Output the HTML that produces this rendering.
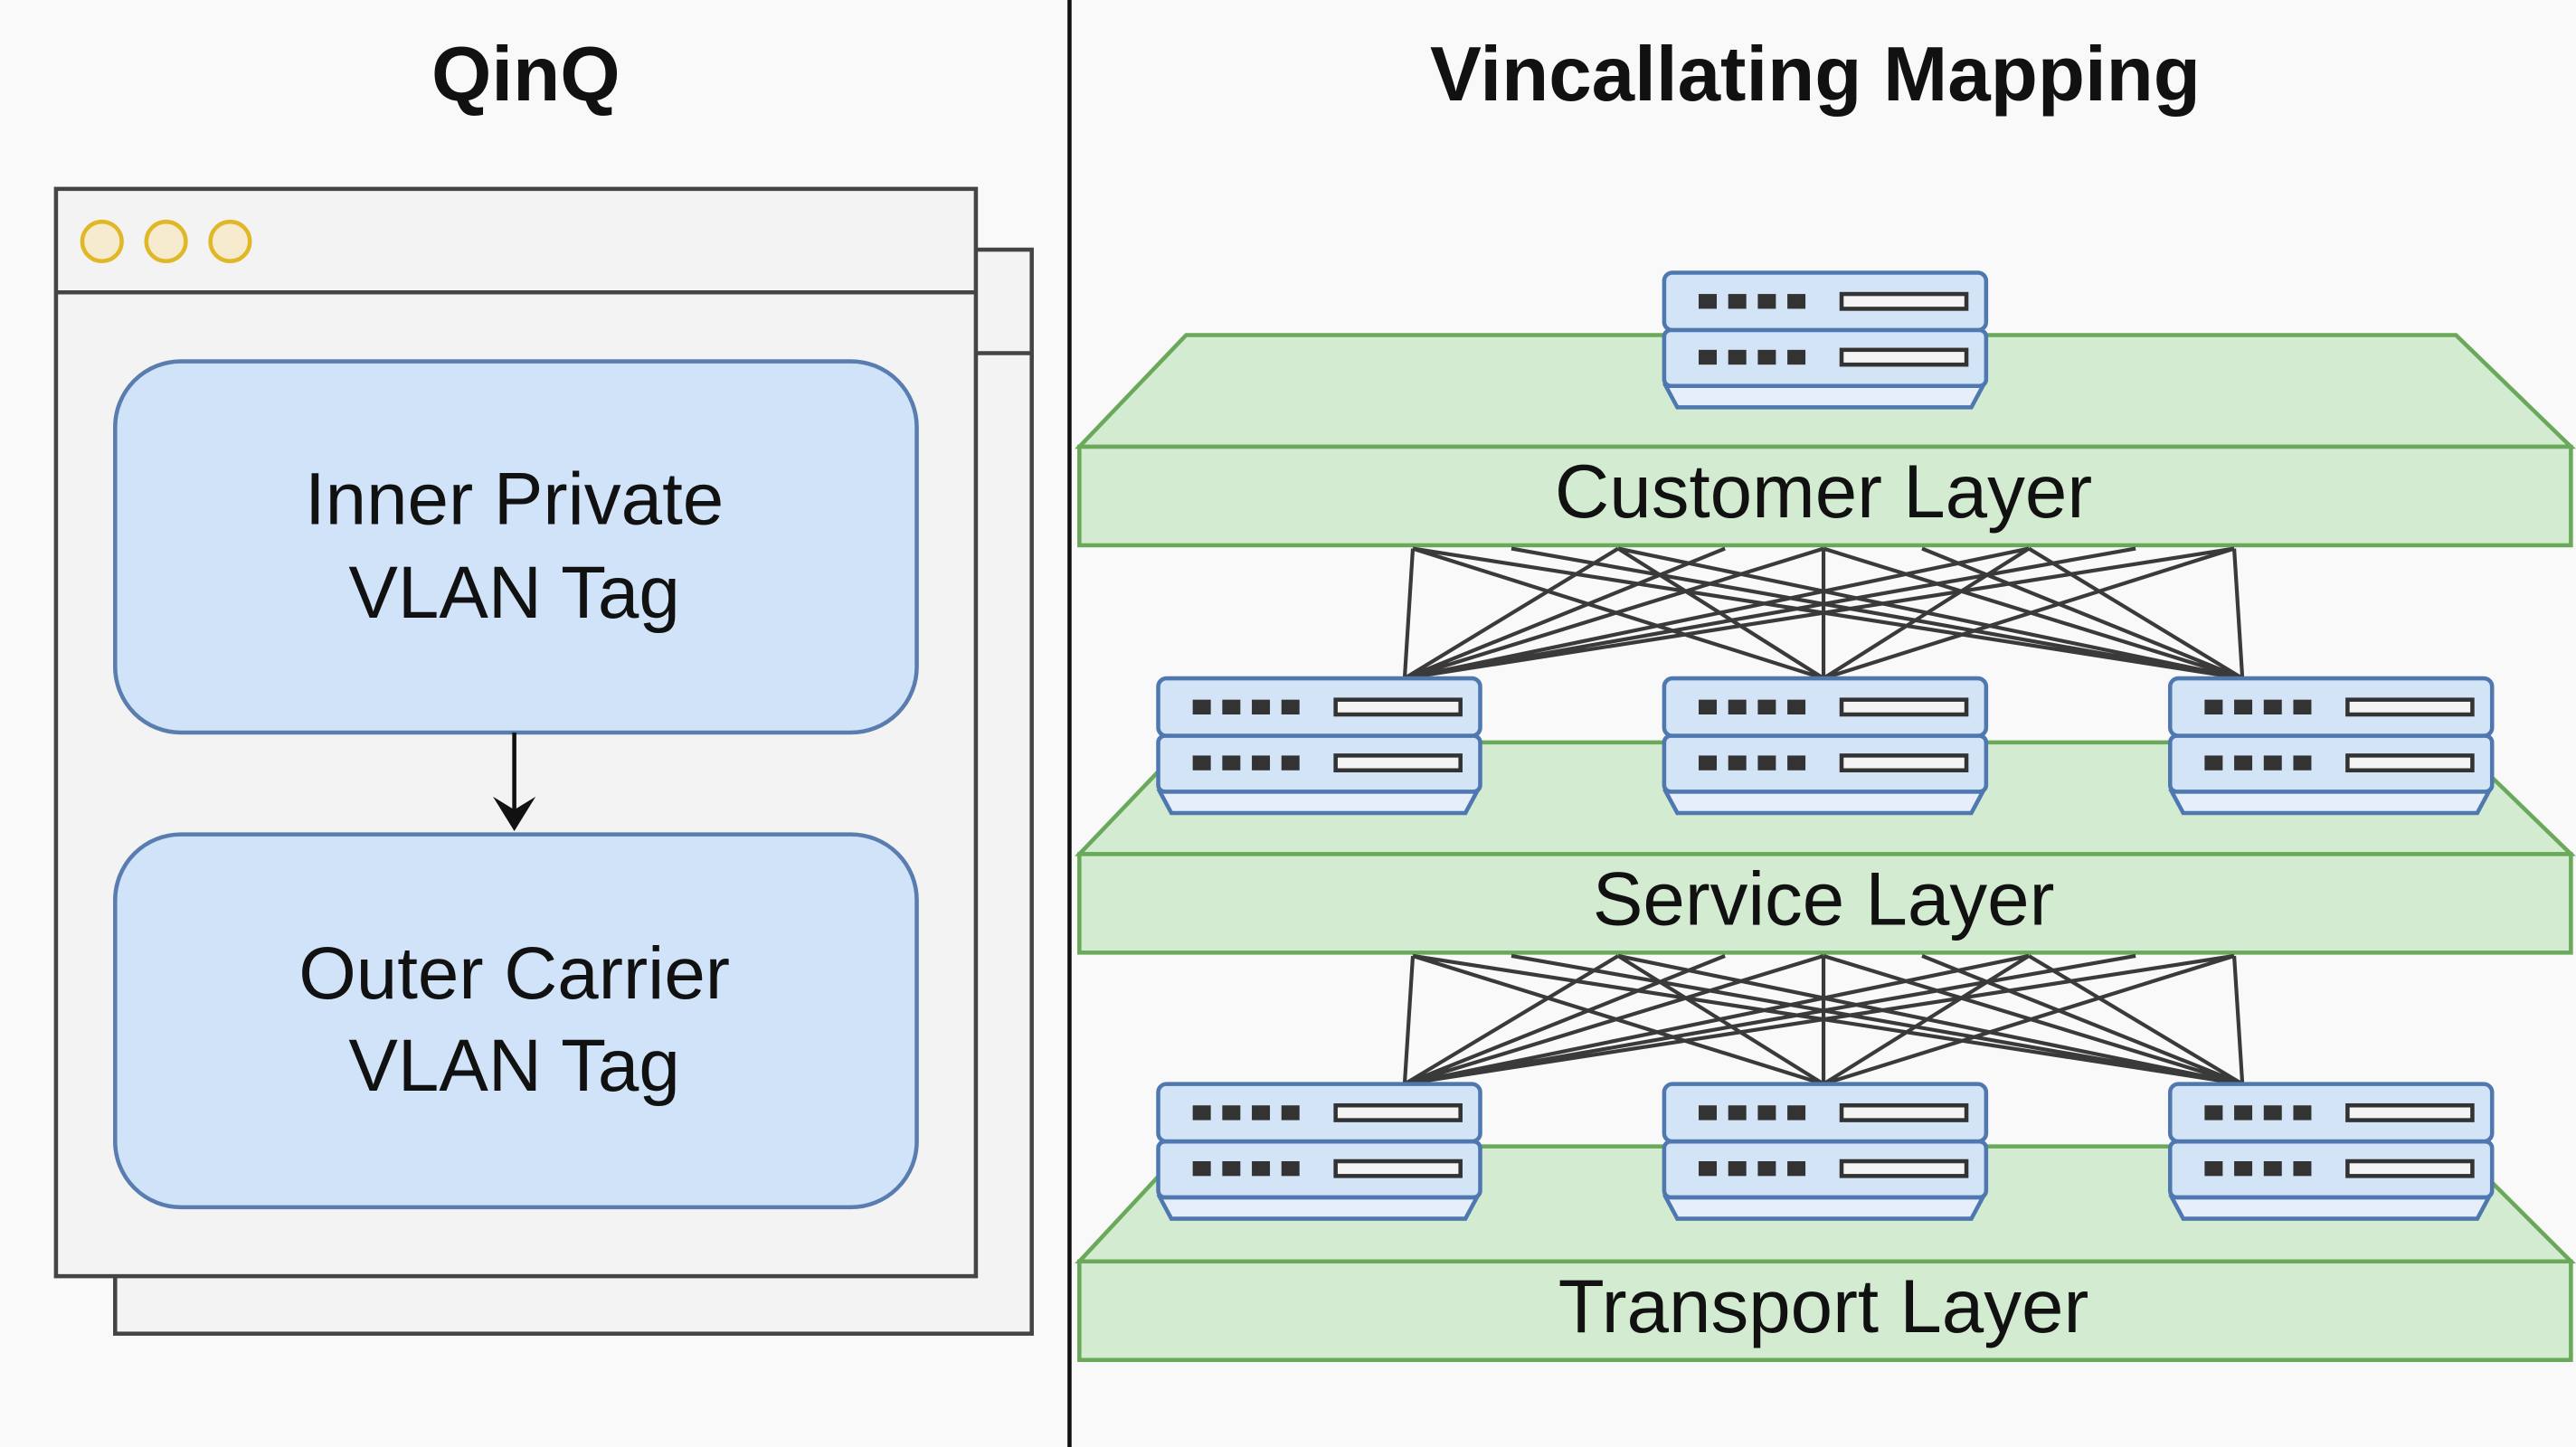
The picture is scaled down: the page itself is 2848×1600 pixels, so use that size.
<!DOCTYPE html>
<html><head><meta charset="utf-8"><style>html,body{margin:0;padding:0;background:#f9f9f9}svg{display:block}</style></head>
<body>
<svg width="2848" height="1600" viewBox="0 0 1568 881" xmlns="http://www.w3.org/2000/svg" font-family="'Liberation Sans', Arial, sans-serif">
<defs>
<g id="sw">
  <path d="M2,69 L195,69 L188,82 L9,82 Z" fill="#e6eef9" stroke="#4f78b0" stroke-width="2.5"/>
  <rect x="1" y="0" width="196" height="35" rx="5" fill="#d4e4f7" stroke="#4f78b0" stroke-width="2.5"/>
  <rect x="1" y="35" width="196" height="34" rx="4" fill="#d4e4f7" stroke="#4f78b0" stroke-width="2.5"/>
  <g fill="#333">
    <rect x="22" y="13" width="11" height="9"/><rect x="40" y="13" width="11" height="9"/><rect x="58" y="13" width="11" height="9"/><rect x="76" y="13" width="11" height="9"/>
    <rect x="22" y="47" width="11" height="9"/><rect x="40" y="47" width="11" height="9"/><rect x="58" y="47" width="11" height="9"/><rect x="76" y="47" width="11" height="9"/>
  </g>
  <rect x="109" y="13" width="76" height="9" fill="#f4f4f4" stroke="#333" stroke-width="2.5"/>
  <rect x="109" y="47" width="76" height="9" fill="#f4f4f4" stroke="#333" stroke-width="2.5"/>
</g>
</defs>
<rect width="1568" height="881" fill="#f9f9f9"/>
<line x1="651" y1="0" x2="651" y2="881" stroke="#111" stroke-width="2.5"/>
<text x="320" y="61" font-size="47" font-weight="bold" text-anchor="middle" fill="#111">QinQ</text>
<text x="1105" y="61" font-size="47" font-weight="bold" text-anchor="middle" fill="#111">Vincallating Mapping</text>

<rect x="70" y="152" width="558" height="660" fill="#f3f3f3" stroke="#444" stroke-width="2.5"/>
<line x1="594" y1="215" x2="628" y2="215" stroke="#444" stroke-width="2.5"/>
<rect x="34" y="115" width="560" height="662" fill="#f3f3f3" stroke="#444" stroke-width="2.5"/>
<line x1="34" y1="178" x2="594" y2="178" stroke="#444" stroke-width="2.5"/>
<g fill="#f7ebcf" stroke="#e0b726" stroke-width="2.5">
<circle cx="62" cy="147" r="12"/><circle cx="101" cy="147" r="12"/><circle cx="140" cy="147" r="12"/>
</g>
<rect x="70" y="220" width="488" height="226" rx="40" fill="#d0e3f8" stroke="#5a7db0" stroke-width="2.5"/>
<text x="313" y="319" font-size="45" text-anchor="middle" fill="#111">Inner Private</text>
<text x="313" y="376" font-size="45" text-anchor="middle" fill="#111">VLAN Tag</text>
<line x1="313" y1="446" x2="313" y2="500" stroke="#111" stroke-width="2.5"/>
<path d="M300,485 L313,506 L326,485 L313,493 Z" fill="#111"/>
<rect x="70" y="508" width="488" height="227" rx="40" fill="#d0e3f8" stroke="#5a7db0" stroke-width="2.5"/>
<text x="313" y="608" font-size="45" text-anchor="middle" fill="#111">Outer Carrier</text>
<text x="313" y="664" font-size="45" text-anchor="middle" fill="#111">VLAN Tag</text>

<g fill="#d3ebd0" stroke="#6aa85a" stroke-width="2.5">
<path d="M722,204 L1495,204 L1565,272 L657,272 Z"/><rect x="657" y="272" width="908" height="60"/>
<path d="M722,452 L1495,452 L1565,520 L657,520 Z"/><rect x="657" y="520" width="908" height="60"/>
<path d="M722,698 L1495,698 L1565,768 L657,768 Z"/><rect x="657" y="768" width="908" height="60"/>
</g>
<g font-size="46" text-anchor="middle" fill="#111">
<text x="1110" y="315">Customer Layer</text>
<text x="1110" y="563">Service Layer</text>
<text x="1110" y="811">Transport Layer</text>
</g>

<g stroke="#3a3a3a" stroke-width="2.3">
<path d="M860,334L855,413M860,334L1110,413M860,334L1365,413
M985,334L855,413M985,334L1110,413M985,334L1365,413
M1110,334L855,413M1110,334L1110,413M1110,334L1365,413
M1235,334L855,413M1235,334L1110,413M1235,334L1365,413
M1360,334L855,413M1360,334L1110,413M1360,334L1365,413
M920,334L1365,413M1300,334L855,413M1050,334L855,413M1170,334L1365,413"/>
<path d="M860,582L855,660M860,582L1110,660M860,582L1365,660
M985,582L855,660M985,582L1110,660M985,582L1365,660
M1110,582L855,660M1110,582L1110,660M1110,582L1365,660
M1235,582L855,660M1235,582L1110,660M1235,582L1365,660
M1360,582L855,660M1360,582L1110,660M1360,582L1365,660
M920,582L1365,660M1300,582L855,660M1050,582L855,660M1170,582L1365,660"/>
</g>

<use href="#sw" x="1012" y="166"/>
<use href="#sw" x="704" y="413"/><use href="#sw" x="1012" y="413"/><use href="#sw" x="1320" y="413"/>
<use href="#sw" x="704" y="660"/><use href="#sw" x="1012" y="660"/><use href="#sw" x="1320" y="660"/>
</svg>
</body></html>
